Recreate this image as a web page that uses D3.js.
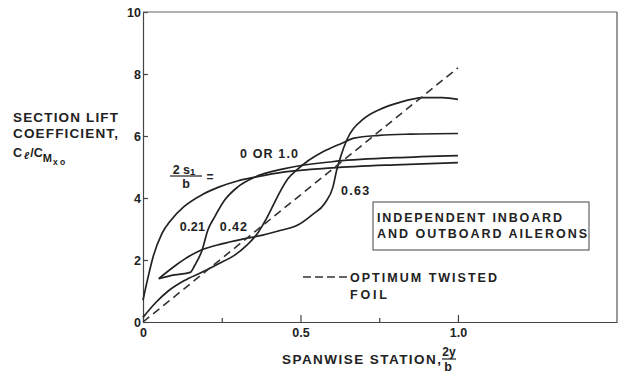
<!DOCTYPE html>
<html>
<head>
<meta charset="utf-8">
<script src="https://d3js.org/d3.v7.min.js"></script>
<style>
    body { margin: 0; background: #fff; }
    svg text { font-family: "Liberation Sans", Arial, sans-serif; font-weight: bold; fill: #222; }
</style>
</head>
<body>
<div id="chart"></div>
<script>
// lift curves, [2y/b, Cl/CMxo]
var curveFull = [[0,0.7],[0.015,1.4],[0.032,2.1],[0.06,2.85],[0.09,3.3],[0.13,3.72],[0.19,4.12],[0.24,4.35],[0.3,4.55],[0.36,4.68],[0.45,4.84],[0.6,4.97],[0.8,5.07],[1.0,5.14]];
var curve021 = [[0.05,1.4],[0.1,1.52],[0.15,1.6],[0.165,1.84],[0.187,2.3],[0.206,2.97],[0.228,3.4],[0.26,3.94],[0.3,4.35],[0.356,4.68],[0.45,4.95],[0.6,5.17],[0.8,5.3],[1.0,5.37]];
var curve042 = [[0,0.15],[0.04,0.62],[0.08,1.0],[0.13,1.33],[0.19,1.62],[0.24,1.88],[0.29,2.15],[0.33,2.48],[0.365,2.88],[0.39,3.3],[0.41,3.7],[0.435,4.2],[0.46,4.62],[0.49,4.92],[0.515,5.13],[0.57,5.48],[0.63,5.76],[0.67,5.93],[0.75,6.02],[0.85,6.06],[1.0,6.08]];
var curve063 = [[0.05,1.4],[0.1,1.8],[0.14,2.08],[0.18,2.3],[0.25,2.52],[0.32,2.68],[0.38,2.8],[0.435,2.95],[0.49,3.12],[0.536,3.45],[0.578,3.84],[0.603,4.35],[0.615,4.9],[0.628,5.35],[0.647,5.87],[0.7,6.55],[0.75,6.85],[0.81,7.07],[0.89,7.24],[0.95,7.24],[1.0,7.18]];
var optimumTwist = [[0,0],[1.0,8.2]];

var yTicks = [0, 2, 4, 6, 8, 10];
var xMajor = [0, 0.5, 1.0];
var xMinor = [0.25, 0.75];
var curveNames = ["0 OR 1.0", "0.21", "0.42", "0.63"];

var W = 619, H = 373;
var margin = {top: 12, right: 2, bottom: 51, left: 143};
var width = W - margin.left - margin.right,
    height = H - margin.top - margin.bottom;

var svg = d3.select("#chart").append("svg")
    .attr("width", W).attr("height", H);
var g = svg.append("g")
    .attr("transform", "translate(" + margin.left + "," + margin.top + ")");

var x = d3.scaleLinear().domain([0, 1.505]).range([0, width]);
var y = d3.scaleLinear().domain([0, 10]).range([height, 0]);

// axes
g.append("g")
    .call(d3.axisLeft(y).tickValues(yTicks).tickSizeInner(-5).tickSizeOuter(0).tickPadding(2));
g.append("g")
    .attr("transform", "translate(0," + height + ")")
    .call(d3.axisBottom(x).tickValues(xMajor).tickSizeInner(-7).tickSizeOuter(0).tickPadding(6)
        .tickFormat(d => d === 0 ? "0" : d.toFixed(1)));
g.append("g")
    .attr("transform", "translate(0," + height + ")")
    .call(d3.axisBottom(x).tickValues(xMinor).tickSizeInner(-4).tickSizeOuter(0).tickFormat(""))
    .select(".domain").remove();
g.selectAll(".domain, .tick line").attr("stroke", "#444").attr("stroke-width", 1.2);
g.selectAll(".tick text").attr("font-size", 12.5).attr("fill", "#222")
    .attr("font-family", "Liberation Sans, Arial, sans-serif").attr("font-weight", "bold");

// frame top + right
g.append("line").attr("x1", 0).attr("x2", width).attr("y1", 0).attr("y2", 0)
    .attr("stroke", "#666").attr("stroke-width", 1);
g.append("line").attr("x1", width).attr("x2", width).attr("y1", 0).attr("y2", height)
    .attr("stroke", "#555").attr("stroke-width", 1.2);

// curves
var line = d3.line().x(d => x(d[0])).y(d => y(d[1])).curve(d3.curveMonotoneX);
[curveFull, curve021, curve042, curve063].forEach(function(c) {
    g.append("path").datum(c).attr("d", line)
        .attr("fill", "none").attr("stroke", "#222").attr("stroke-width", 1.7);
});
g.append("path").datum(optimumTwist).attr("d", d3.line().x(d => x(d[0])).y(d => y(d[1])))
    .attr("fill", "none").attr("stroke", "#333").attr("stroke-width", 1.6)
    .attr("stroke-dasharray", "8,5");

function txt(parent, px, py, s, size, len) {
    var t = parent.append("text").attr("x", px).attr("y", py)
        .attr("font-size", size).text(s);
    if (len) t.attr("textLength", len).attr("lengthAdjust", "spacing");
    return t;
}

// curve labels
txt(g, x(0.308), y(5.29), curveNames[0], 12.5, 58);
txt(g, x(0.117), y(2.94), curveNames[1], 12.5, 25);
txt(g, x(0.244), y(2.94), curveNames[2], 12.5, 27);
txt(g, x(0.629), y(4.1), curveNames[3], 12.5, 28);

// 2s1/b =
var fx = 185 - margin.left, fy = 176 - margin.top;
var num = g.append("text").attr("x", fx - 1).attr("y", fy - 2).attr("text-anchor", "middle").attr("font-size", 12.5);
num.append("tspan").text("2 s");
num.append("tspan").attr("font-size", 9.5).attr("dy", 1).text("1");
g.append("line").attr("x1", fx - 15).attr("x2", fx + 17).attr("y1", fy).attr("y2", fy)
    .attr("stroke", "#222").attr("stroke-width", 1.2);
g.append("text").attr("x", fx + 1).attr("y", fy + 12).attr("text-anchor", "middle").attr("font-size", 12.5).text("b");
g.append("text").attr("x", fx + 25).attr("y", fy + 5).attr("text-anchor", "middle").attr("font-size", 12).text("=");

// box
g.append("rect").attr("x", 373 - margin.left).attr("y", 202 - margin.top)
    .attr("width", 216).attr("height", 48)
    .attr("fill", "none").attr("stroke", "#555").attr("stroke-width", 1.1);
txt(g, 377 - margin.left, 222 - margin.top, "INDEPENDENT INBOARD", 12.5, 185);
txt(g, 377 - margin.left, 238 - margin.top, "AND OUTBOARD AILERONS", 12.5, 210);

// legend for dashed line
g.append("line").attr("x1", 303 - margin.left).attr("x2", 347 - margin.left)
    .attr("y1", 277 - margin.top).attr("y2", 277 - margin.top)
    .attr("stroke", "#333").attr("stroke-width", 1.4).attr("stroke-dasharray", "8,4");
txt(g, 350 - margin.left, 282 - margin.top, "OPTIMUM TWISTED", 12.5, 147);
txt(g, 350 - margin.left, 299 - margin.top, "FOIL", 12.5, 37);

// y title
txt(svg, 13, 122, "SECTION LIFT", 13.5, 105);
txt(svg, 13, 138, "COEFFICIENT,", 13.5, 105);
var cl = svg.append("text").attr("x", 13).attr("y", 157).attr("font-size", 12.5);
cl.append("tspan").text("C");
cl.append("tspan").attr("font-size", 10).attr("dy", 2).attr("dx", 2).attr("font-style", "italic").text("\u2113");
cl.append("tspan").attr("dy", -2).attr("dx", 1).text("/C");
cl.append("tspan").attr("font-size", 11).attr("dy", 5).text("M");
cl.append("tspan").attr("font-size", 8.5).attr("dy", 3).attr("dx", 1).text("x o");

// x title
txt(svg, 282, 364, "SPANWISE STATION,", 13.5, 159);
svg.append("text").attr("x", 449).attr("y", 356).attr("text-anchor", "middle").attr("font-size", 12).text("2y");
svg.append("line").attr("x1", 442).attr("x2", 456).attr("y1", 359).attr("y2", 359)
    .attr("stroke", "#222").attr("stroke-width", 1.2);
svg.append("text").attr("x", 448).attr("y", 371).attr("text-anchor", "middle").attr("font-size", 12.5).text("b");
</script>
</body>
</html>
